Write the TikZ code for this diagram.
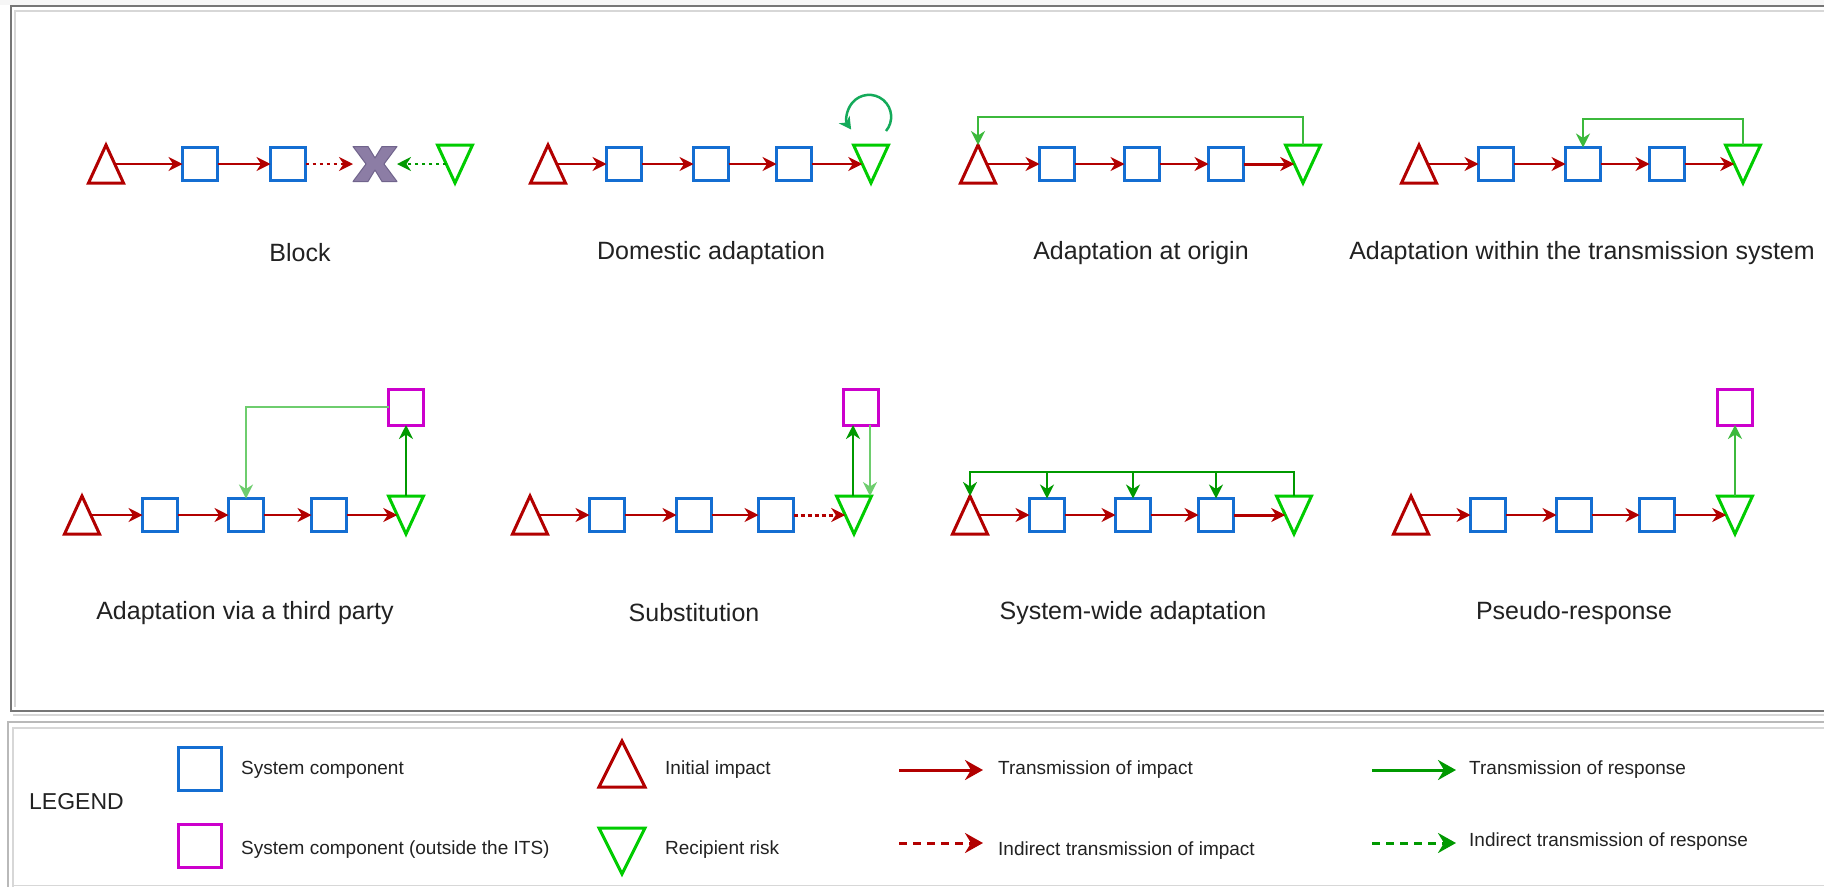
\documentclass[tikz,border=0pt]{standalone}
\usepackage{fontspec}
\setmainfont{Liberation Sans}
\usetikzlibrary{arrows.meta,calc}

\definecolor{impred}{RGB}{178,0,0}
\definecolor{riskgreen}{RGB}{0,204,0}
\definecolor{compblue}{RGB}{20,110,210}
\definecolor{extmagenta}{RGB}{204,0,204}
\definecolor{respgreen}{RGB}{0,153,0}
\definecolor{resplight}{RGB}{60,185,60}
\definecolor{respfaint}{RGB}{110,205,110}
\definecolor{loopgreen}{RGB}{20,170,90}
\definecolor{blockfill}{RGB}{140,125,165}
\definecolor{blockedge}{RGB}{112,100,140}
\definecolor{txt}{RGB}{34,34,34}
\definecolor{framedark}{RGB}{118,118,118}
\definecolor{framemid}{RGB}{185,185,185}
\definecolor{framelight}{RGB}{215,215,215}
\definecolor{topstrip}{RGB}{246,246,246}

\tikzset{
  comp/.style={draw=compblue, line width=3, minimum width=35, minimum height=33, inner sep=0, outer sep=0},
  ext/.style={draw=extmagenta, line width=3, minimum width=35, minimum height=36, inner sep=0, outer sep=0},
  tri/.style={minimum width=17.5, minimum height=38, inner sep=0, outer sep=0},
  bigtri/.style={minimum width=23, minimum height=46, inner sep=0, outer sep=0},
  cross/.style={minimum width=44, minimum height=35, inner sep=0, outer sep=0},
  impactline/.style={draw=impred, line width=3, line join=miter},
  riskline/.style={draw=riskgreen, line width=3, line join=miter},
  tip/.style={-{Stealth[length=14pt, width=14pt, inset=4.5pt]}},
  bigtip/.style={-{Stealth[length=18pt, width=20pt, inset=6pt]}},
  imp/.style={draw=impred, line width=2, tip},
  impbold/.style={draw=impred, line width=3, tip},
  impdot/.style={draw=impred, line width=2, dash pattern=on 3 off 4, tip},
  impdash/.style={draw=impred, line width=3, dash pattern=on 4 off 3, tip},
  resp/.style={draw=respgreen, line width=2, tip},
  respthin/.style={draw=resplight, line width=2, tip},
  respfaintline/.style={draw=respfaint, line width=1.5, tip},
  respdot/.style={draw=respgreen, line width=2, dash pattern=on 3 off 4, tip},
  rail/.style={draw=respgreen, line width=2.5, tip},
  looparrow/.style={draw=loopgreen, line width=2.5, -{Stealth[length=12pt, width=13pt, inset=3.5pt]}},
  title/.style={text=txt, font=\fontsize{25}{30}\selectfont, inner sep=0},
  legtxt/.style={text=txt, font=\fontsize{19}{23}\selectfont, inner sep=0, anchor=west},
  legimp/.style={draw=impred, line width=3, bigtip},
  legimpdash/.style={draw=impred, line width=3, dash pattern=on 8 off 6, bigtip},
  legresp/.style={draw=respgreen, line width=3, bigtip},
  legrespdash/.style={draw=respgreen, line width=3, dash pattern=on 8 off 6, bigtip},
}

% triangles are drawn round invisible named nodes whose side edges
% sit on the slanted edges of the triangle at mid-height
\newcommand\impactshape[1]{\draw[impactline] ($(#1.south)!2!(#1.south west)$) -- (#1.north) -- ($(#1.south)!2!(#1.south east)$) -- cycle;}
\newcommand\riskshape[1]{\draw[riskline] ($(#1.north)!2!(#1.north west)$) -- (#1.south) -- ($(#1.north)!2!(#1.north east)$) -- cycle;}
\newcommand\blockmark[1]{\draw[draw=blockedge, fill=blockfill, line width=1, line join=round]
  ($(#1)+(-22,-17.5)$) -- ($(#1)+(-7,-17.5)$) -- ($(#1)+(0,-6)$) -- ($(#1)+(7,-17.5)$) --
  ($(#1)+(22,-17.5)$) -- ($(#1)+(9,0)$) -- ($(#1)+(22,17.5)$) -- ($(#1)+(7,17.5)$) --
  ($(#1)+(0,6)$) -- ($(#1)+(-7,17.5)$) -- ($(#1)+(-22,17.5)$) -- ($(#1)+(-9,0)$) -- cycle;}

\begin{document}
\begin{tikzpicture}[x=1pt, y=-1pt]
\useasboundingbox (0,0) rectangle (1824,887);
\fill[white] (0,0) rectangle (1824,887);
\fill[topstrip] (0,0) rectangle (1824,5);

% panel frames
\draw[framedark, line width=2] (1824,6) -- (11,6) -- (11,711) -- (1824,711);
\draw[framelight, line width=1.5] (1824,11) -- (15,11) -- (15,707);
\draw[framelight, line width=1.5] (13,715) -- (1824,715);
\draw[framemid, line width=1.5] (1824,722) -- (8,722) -- (8,887);
\draw[framelight, line width=1.5] (1824,728) -- (13,728) -- (13,887);
\draw[framelight, line width=1] (13,885) -- (1824,885);

% ---------- Block ----------
\node[tri] (A-t) at (106,164) {}; \impactshape{A-t}
\node[comp] (A-1) at (200,164) {};
\node[comp] (A-2) at (288,164) {};
\node[cross] (A-x) at (375,164) {}; \blockmark{A-x}
\node[tri] (A-r) at (455,164) {}; \riskshape{A-r}
\draw[imp] (A-t) -- (A-1);
\draw[imp] (A-1) -- (A-2);
\draw[impdot] (A-2) -- (A-x);
\draw[respdot] (A-r) -- (A-x);
\node[title] (A-title) at (300,253) {Block};

% ---------- Domestic adaptation ----------
\node[tri] (B-t) at (548,164) {}; \impactshape{B-t}
\node[comp] (B-1) at (624,164) {};
\node[comp] (B-2) at (711,164) {};
\node[comp] (B-3) at (794,164) {};
\node[tri] (B-r) at (871,164) {}; \riskshape{B-r}
\draw[imp] (B-t) -- (B-1);
\draw[imp] (B-1) -- (B-2);
\draw[imp] (B-2) -- (B-3);
\draw[imp] (B-3) -- (B-r);
\coordinate (B-loop) at ($(B-r.north)+(15,-14)$);
\draw[looparrow] (B-loop) arc[start angle=40, end angle=-215, radius=22];
\node[title] (B-title) at (711,253) {Domestic adaptation};

% ---------- Adaptation at origin ----------
\node[tri] (C-t) at (978,164) {}; \impactshape{C-t}
\node[comp] (C-1) at (1057,164) {};
\node[comp] (C-2) at (1142,164) {};
\node[comp] (C-3) at (1226,164) {};
\node[tri] (C-r) at (1303,164) {}; \riskshape{C-r}
\draw[imp] (C-t) -- (C-1);
\draw[imp] (C-1) -- (C-2);
\draw[imp] (C-2) -- (C-3);
\draw[impbold] (C-3) -- (C-r);
\draw[respthin] (C-r.north) -- ++(0,-28) -| (C-t.north);
\node[title] (C-title) at (1141,253) {Adaptation at origin};

% ---------- Adaptation within the transmission system ----------
\node[tri] (D-t) at (1419,164) {}; \impactshape{D-t}
\node[comp] (D-1) at (1496,164) {};
\node[comp] (D-2) at (1583,164) {};
\node[comp] (D-3) at (1667,164) {};
\node[tri] (D-r) at (1743,164) {}; \riskshape{D-r}
\draw[imp] (D-t) -- (D-1);
\draw[imp] (D-1) -- (D-2);
\draw[imp] (D-2) -- (D-3);
\draw[imp] (D-3) -- (D-r);
\draw[respthin] (D-r.north) -- ++(0,-26) -| (D-2.north);
\node[title] (D-title) at (1582,253) {Adaptation within the transmission system};

% ---------- Adaptation via a third party ----------
\node[tri] (E-t) at (82,515) {}; \impactshape{E-t}
\node[comp] (E-1) at (160,515) {};
\node[comp] (E-2) at (246,515) {};
\node[comp] (E-3) at (329,515) {};
\node[tri] (E-r) at (406,515) {}; \riskshape{E-r}
\node[ext] (E-m) at (406,407) {};
\draw[imp] (E-t) -- (E-1);
\draw[imp] (E-1) -- (E-2);
\draw[imp] (E-2) -- (E-3);
\draw[imp] (E-3) -- (E-r);
\draw[resp] (E-r.north) -- (E-m.south);
\draw[respfaintline] (E-m.west) -| (E-2.north);
\node[title] (E-title) at (245,613) {Adaptation via a third party};

% ---------- Substitution ----------
\node[tri] (F-t) at (530,515) {}; \impactshape{F-t}
\node[comp] (F-1) at (607,515) {};
\node[comp] (F-2) at (694,515) {};
\node[comp] (F-3) at (776,515) {};
\node[tri] (F-r) at (854,515) {}; \riskshape{F-r}
\node[ext] (F-m) at (861,407) {};
\draw[imp] (F-t) -- (F-1);
\draw[imp] (F-1) -- (F-2);
\draw[imp] (F-2) -- (F-3);
\draw[impdash] (F-3) -- (F-r);
\draw[resp] ([xshift=-8]F-m.south |- F-r.north) -- ([xshift=-8]F-m.south);
\draw[respfaintline] ([xshift=9]F-m.south) -- ([xshift=9]F-m.south |- F-r.north);
\node[title] (F-title) at (694,613) {Substitution};

% ---------- System-wide adaptation ----------
\node[tri] (G-t) at (970,515) {}; \impactshape{G-t}
\node[comp] (G-1) at (1047,515) {};
\node[comp] (G-2) at (1133,515) {};
\node[comp] (G-3) at (1216,515) {};
\node[tri] (G-r) at (1294,515) {}; \riskshape{G-r}
\draw[imp] (G-t) -- (G-1);
\draw[imp] (G-1) -- (G-2);
\draw[imp] (G-2) -- (G-3);
\draw[impbold] (G-3) -- (G-r);
\coordinate (G-rail) at ($(G-r.north)+(0,-24)$);
\draw[rail] (G-r.north) -- (G-rail) -| (G-t.north);
\draw[resp] (G-1.north |- G-rail) -- (G-1.north);
\draw[resp] (G-2.north |- G-rail) -- (G-2.north);
\draw[resp] (G-3.north |- G-rail) -- (G-3.north);
\node[title] (G-title) at (1133,613) {System-wide adaptation};

% ---------- Pseudo-response ----------
\node[tri] (H-t) at (1411,515) {}; \impactshape{H-t}
\node[comp] (H-1) at (1488,515) {};
\node[comp] (H-2) at (1574,515) {};
\node[comp] (H-3) at (1657,515) {};
\node[tri] (H-r) at (1735,515) {}; \riskshape{H-r}
\node[ext] (H-m) at (1735,407) {};
\draw[imp] (H-t) -- (H-1);
\draw[imp] (H-1) -- (H-2);
\draw[imp] (H-2) -- (H-3);
\draw[imp] (H-3) -- (H-r);
\draw[respthin] (H-r.north) -- (H-m.south);
\node[title] (H-title) at (1574,613) {Pseudo-response};

% ---------- Legend ----------
\node[text=txt, font=\fontsize{23}{27}\selectfont, inner sep=0, anchor=west] (L-head) at (29,802) {LEGEND};

\node[comp, minimum width=43, minimum height=43] (L-comp) at (200,769) {};
\node[legtxt] (L-comp-t) at (241,770) {System component};
\node[ext, minimum width=43, minimum height=43] (L-ext) at (200,846) {};
\node[legtxt] (L-ext-t) at (241,850) {System component (outside the ITS)};

\node[bigtri] (L-imp) at (622,764) {}; \impactshape{L-imp}
\node[legtxt] (L-imp-t) at (665,770) {Initial impact};
\node[bigtri] (L-risk) at (622,851) {}; \riskshape{L-risk}
\node[legtxt] (L-risk-t) at (665,850) {Recipient risk};

\coordinate (L-a1s) at (899,770); \coordinate (L-a1e) at (983,770);
\draw[legimp] (L-a1s) -- (L-a1e);
\node[legtxt] (L-a1-t) at (998,770) {Transmission of impact};
\coordinate (L-a2s) at (899,843); \coordinate (L-a2e) at (983,843);
\draw[legimpdash] (L-a2s) -- (L-a2e);
\node[legtxt] (L-a2-t) at (998,851) {Indirect transmission of impact};

\coordinate (L-a3s) at (1372,770); \coordinate (L-a3e) at (1456,770);
\draw[legresp] (L-a3s) -- (L-a3e);
\node[legtxt] (L-a3-t) at (1469,770) {Transmission of response};
\coordinate (L-a4s) at (1372,843); \coordinate (L-a4e) at (1456,843);
\draw[legrespdash] (L-a4s) -- (L-a4e);
\node[legtxt] (L-a4-t) at (1469,842) {Indirect transmission of response};
\end{tikzpicture}
\end{document}
